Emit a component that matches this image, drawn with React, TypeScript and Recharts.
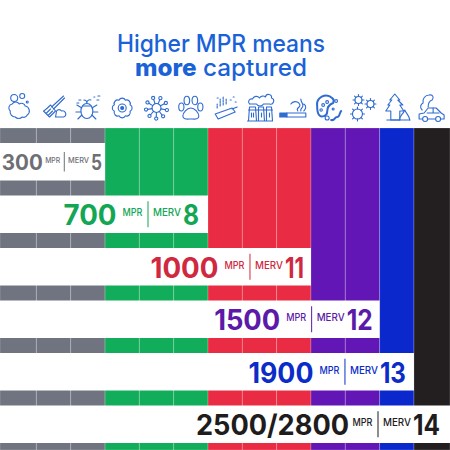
import { BarChart, Bar, XAxis, YAxis, LabelList } from 'recharts';

const COLUMN_NAMES = [
  'dust', 'lint', 'mites', 'pollen', 'mold', 'pet dander', 'cooking',
  'smog', 'smoke', 'bacteria', 'virus', 'wildfire', 'exhaust',
];
// width of each particle column in chart units (edge columns run off the page a bit)
const COLUMN_SPANS = [1.06, 1, 1, 1, 1, 1, 1, 1, 1, 1, 1, 1, 1.05];
const COLUMN_COLORS = [
  '#6f7480', '#6f7480', '#6f7480',
  '#12ad5a', '#12ad5a', '#12ad5a',
  '#e92b44', '#e92b44', '#e92b44',
  '#6216b5', '#6216b5',
  '#0a28cc',
  '#231f20',
];
const ICON_TICKS = [0.56, 1.56, 2.56, 3.56, 4.56, 5.56, 6.56, 7.56, 8.56, 9.56, 10.56, 11.56, 12.56];

const MPR_LABELS = ['300', '700', '1000', '1500', '1900', '2500/2800'];
const MERV_LABELS = ['5', '8', '11', '12', '13', '14'];
const ROW_COVERAGE = [3.06, 6.06, 9.06, 11.06, 12.06, 13.11];
const ROW_COLORS = ['#6e6f75', '#13a654', '#d0283f', '#5c1aa8', '#0b2cc8', '#1e1c1d'];

const rows = MPR_LABELS.map((mpr, i) => {
  const row: Record<string, number | string> = { group: 'all', mpr, merv: MERV_LABELS[i], coverage: ROW_COVERAGE[i] };
  COLUMN_NAMES.forEach((c, j) => {
    row[c] = COLUMN_SPANS[j];
  });
  return row;
});

const FONT = 'Inter, sans-serif';
const ICON_BLUE = '#2f6bd0';

// label layout per row: gap to bar end, scale, merv digit width, big number width, gap after big number
const LABEL_INSET = [3, 9, 7, 7, 8, 10];
const LABEL_SCALE = [0.75, 1, 1, 1, 1, 1];
const DIGIT_WIDTH = [11, 16, 19, 26, 26, 27];
const VALUE_WIDTH = [41, 53, 68, 66, 65, 153];
const VALUE_GAP = [2, 5.5, 5.5, 5.5, 5.5, 3];

function RowLabel(props: any) {
  const { x, y, width, height, index } = props;
  const s = LABEL_SCALE[index];
  const color = ROW_COLORS[index];
  const cy = y + height / 2;
  const right = x + width - LABEL_INSET[index];
  const mervEnd = right - DIGIT_WIDTH[index] - 2;
  const divider = mervEnd - 33 * s;
  const mprEnd = divider - 5.5 * s;
  const valueEnd = mprEnd - 20.5 * s - VALUE_GAP[index];
  const base = cy + 11 * s;
  return (
    <g fontFamily={FONT} fill={color}>
      <text
        x={valueEnd}
        y={base}
        textAnchor="end"
        fontSize={28 * s}
        fontWeight={700}
        textLength={VALUE_WIDTH[index]}
        lengthAdjust="spacingAndGlyphs"
      >
        {MPR_LABELS[index]}
      </text>
      <text
        x={mprEnd}
        y={cy + 2 * s}
        textAnchor="end"
        fontSize={10.5 * s}
        fontWeight={500}
        textLength={20 * s}
        lengthAdjust="spacingAndGlyphs"
      >
        MPR
      </text>
      <line x1={divider} x2={divider} y1={cy - 13 * s} y2={cy + 13 * s} stroke={color} strokeWidth={1} />
      <text
        x={mervEnd}
        y={cy + 2 * s}
        textAnchor="end"
        fontSize={10.5 * s}
        fontWeight={500}
        textLength={28 * s}
        lengthAdjust="spacingAndGlyphs"
      >
        MERV
      </text>
      <text
        x={right}
        y={base}
        textAnchor="end"
        fontSize={28 * s}
        fontWeight={700}
        textLength={DIGIT_WIDTH[index]}
        lengthAdjust="spacingAndGlyphs"
      >
        {MERV_LABELS[index]}
      </text>
    </g>
  );
}

const spokes = (n: number, r0: number, r1: number, tip: number) =>
  Array.from({ length: n }, (_, i) => {
    const a = (i * 2 * Math.PI) / n + 0.2;
    const c = Math.cos(a);
    const d = Math.sin(a);
    return (
      <g key={i}>
        <line x1={c * r0} y1={d * r0} x2={c * r1} y2={d * r1} />
        <circle cx={c * (r1 + tip)} cy={d * (r1 + tip)} r={tip} />
      </g>
    );
  });

const gear = (cx: number, cy: number, r: number) => (
  <g transform={`translate(${cx} ${cy})`}>
    <circle r={r} />
    {Array.from({ length: 8 }, (_, i) => {
      const a = (i * Math.PI) / 4;
      return (
        <line key={i} x1={Math.cos(a) * r} y1={Math.sin(a) * r} x2={Math.cos(a) * (r + 2)} y2={Math.sin(a) * (r + 2)} />
      );
    })}
  </g>
);

// outline of eight round petals
const flowerOutline = () => {
  const pts = Array.from({ length: 8 }, (_, i) => {
    const a = ((i + 0.5) * Math.PI) / 4;
    return [Math.cos(a) * 8.5, Math.sin(a) * 8.5];
  });
  const arcs = pts.map(([x, y], i) => (i === 0 ? `M${x} ${y}` : `A3.6 3.6 0 0 1 ${x} ${y}`)).join(' ');
  return `${arcs} A3.6 3.6 0 0 1 ${pts[0][0]} ${pts[0][1]}`;
};

const ICONS: React.ReactNode[] = [
  // dust cloud
  <g>
    <path d="M-9 2a4 4 0 0 1 2-7a4 4 0 0 1 7 0a4 4 0 0 1 6 2a5 5 0 0 1 2 9a4 4 0 0 1-5 2a5 5 0 0 1-7 0a5 5 0 0 1-5-6z" transform="translate(0 1)" />
    <circle cx={-5} cy={-10} r={3.5} />
    <circle cx={3} cy={-12} r={2.5} />
    <circle cx={8} cy={-6} r={1} />
  </g>,
  // broom
  <g>
    <path d="M10-12L-2-1M11-10L0 1" />
    <path d="M-3-3L2 3L-4 9L-10 3C-8 2-5-1-3-3z" />
    <path d="M-7 5L-3 1M-5 7L-1 3" />
    <path d="M3 3a3 3 0 0 1 5 0a3 3 0 0 1 2 6h-8z" />
  </g>,
  // dust mite
  <g>
    <ellipse cx={-1} cy={3} rx={6} ry={7.5} />
    <path d="M-5-2h8M-1-5a3 3 0 0 0-3-3M-1-5a3 3 0 0 1 4-3" />
    <path d="M-6 0L-11-3M-7 4H-12M-6 7L-10 11M4 0L9-3M5 4H10M4 7L8 11" />
    <path d="M-9-8h2M-11-5h2M6-11h1M9-8h2M10-12h2" />
  </g>,
  // flower
  <g>
    <path d={flowerOutline()} />
    <circle r={4} />
    <circle r={1.5} fill={ICON_BLUE} />
  </g>,
  // pollen burst
  <g>
    <circle r={4.5} />
    {spokes(9, 4.5, 9, 1.6)}
  </g>,
  // paw
  <g>
    <path d="M0 0c4 0 8 5 8 8c0 4-5 3-8 3s-8 1-8-3c0-3 4-8 8-8z" />
    <ellipse cx={-9.5} cy={-1} rx={2.6} ry={4} />
    <ellipse cx={-4} cy={-7.5} rx={2.8} ry={4.2} />
    <ellipse cx={4} cy={-7.5} rx={2.8} ry={4.2} />
    <ellipse cx={9.5} cy={-1} rx={2.6} ry={4} />
  </g>,
  // pan with cooking fumes
  <g>
    <path d="M-10 6L7 0L10 4L-7 11z" />
    <path d="M7 1L12-1" />
    <path d="M-5-2v-7M-2-3v-9M1-4v-5M-8 0v-4M5-8h1M8-11h1M10-6h1M-8-10h1" strokeDasharray="2 1" />
  </g>,
  // factory
  <g>
    <path d="M-12 13H13M-11 13L-10-1H-4L-3 13M-1 13L-1-1H4L5 13M7 13L7-1H12L13 13M-11 2H13" />
    <path d="M-8 9V5M-6 9V5M2 9V5M10 9V5" />
    <path d="M-10-4a3 3 0 0 1 3-5a4 4 0 0 1 7-1a4 4 0 0 1 6-1a3 3 0 0 1 6 1a3 3 0 0 1-2 6h-6a4 4 0 0 1-7 0z" />
  </g>,
  // cigarette
  <g>
    <rect x={-14} y={5} width={7} height={4} fill={ICON_BLUE} />
    <rect x={-7} y={5} width={19} height={4} />
    <path d="M4 3c-3-4 5-3 1-8c-2-2-6-2-8 1M7 3c-1-3 3-3 2-6c0-2-2-3-2-6M10 3c2-2 3-5 0-7" />
  </g>,
  // bacteria
  <g>
    <path d="M-11-2a9 9 0 0 1 15-8a4 4 0 0 1 1 5c-3 1-6 4-6 9c0 4-6 6-8 3c-2-2-2-6-2-9z" strokeWidth={2} />
    <circle cx={-5} cy={-3} r={1.4} />
    <circle cx={-1} cy={-6} r={1.4} />
    <circle cx={-7} cy={2} r={1.2} />
    <path d="M3 12c4 1 3-3 6-3s2-4 4-6" strokeWidth={2} />
    <circle cx={8} cy={-7} r={1.4} />
    <circle cx={-1} cy={10} r={2} />
    <circle cx={5} cy={1} r={1} />
  </g>,
  // virus cluster
  <g>
    {gear(-4, -8, 3.5)}
    {gear(8, -4, 3.5)}
    {gear(-5, 6, 5)}
  </g>,
  // tree and wildfire
  <g>
    <path d="M-2-14L3-8H1L6-3H3L7 3H3V12H-6V3H-11L-7-3H-9L-5-8H-7z" />
    <path d="M-10 12H13" />
    <path d="M3 12C2 8 6 7 8 2C9 5 13 8 13 12" />
  </g>,
  // car with exhaust cloud
  <g>
    <path d="M-12 11V6L-7 5L-3 0H5L10 5L13 7V11z" />
    <path d="M-4 5H8M2 0V5" />
    <circle cx={-6} cy={11} r={2.5} fill="#fff" />
    <circle cx={7} cy={11} r={2.5} fill="#fff" />
    <path d="M-9 2C-12-1-10-4-8-5C-9-9-6-13-2-13C2-14 3-10 1-8C-2-7-3-5-3-1" />
  </g>,
];

function IconTick(props: any) {
  const { x, y, index } = props;
  return (
    <g
      transform={`translate(${x} ${y - 12})`}
      fill="none"
      stroke={ICON_BLUE}
      strokeWidth={1.1}
      strokeLinecap="round"
      strokeLinejoin="round"
    >
      {ICONS[index]}
    </g>
  );
}

export default function App() {
  return (
    <div style={{ position: 'absolute', left: 0, top: 0, width: 450, height: 450, background: '#fff' }}>
      <BarChart
        width={450}
        height={450}
        layout="vertical"
        data={rows}
        barCategoryGap={0}
        margin={{ top: 88, right: 0, bottom: 0, left: 0 }}
      >
        <XAxis
          type="number"
          orientation="top"
          domain={[0, 13.11]}
          ticks={ICON_TICKS}
          interval={0}
          height={40}
          axisLine={false}
          tickLine={false}
          tick={<IconTick />}
        />
        <YAxis yAxisId="columns" type="category" dataKey="group" hide allowDuplicatedCategory={false} />
        <YAxis yAxisId="rows" type="category" dataKey="mpr" hide padding={{ top: 7, bottom: 0 }} />
        {COLUMN_NAMES.map((c, i) => (
          <Bar
            key={c}
            yAxisId="columns"
            dataKey={c}
            stackId="columns"
            fill={COLUMN_COLORS[i]}
            stroke="#fff"
            strokeOpacity={0.2}
            strokeWidth={1}
            isAnimationActive={false}
          />
        ))}
        <Bar yAxisId="rows" dataKey="coverage" barSize={37.5} fill="#fff" isAnimationActive={false}>
          <LabelList dataKey="coverage" content={<RowLabel />} />
        </Bar>
        <g fontFamily={FONT} fill="#1a62d8" fontSize={24} fontWeight={500} textAnchor="middle">
          <text x={221} y={52} textLength={208} lengthAdjust="spacingAndGlyphs">
            Higher MPR means
          </text>
          <text x={221} y={76} textLength={172} lengthAdjust="spacingAndGlyphs">
            <tspan fontWeight={800}>more</tspan> captured
          </text>
        </g>
      </BarChart>
    </div>
  );
}
